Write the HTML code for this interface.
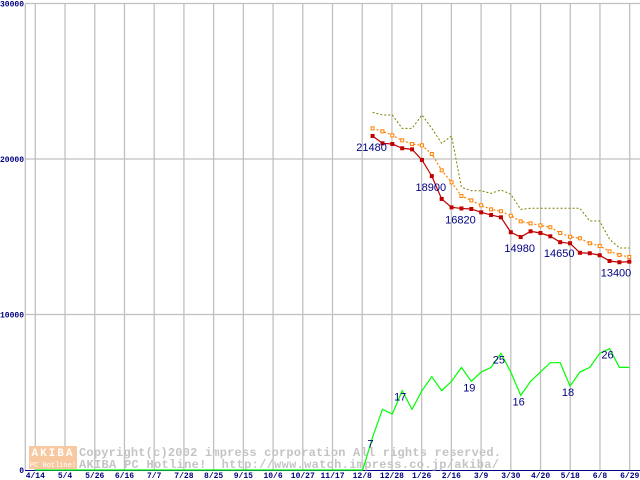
<!DOCTYPE html>
<html><head><meta charset="utf-8"><style>
html,body{margin:0;padding:0;background:#fff}
svg{display:block;font-family:"Liberation Mono","DejaVu Sans Mono",monospace}
</style></head><body>
<svg id="chart" width="640" height="480" viewBox="0 0 640 480" xmlns="http://www.w3.org/2000/svg">
<g id="grid"></g>
<g id="wm">
 <rect x="29" y="446" width="48" height="23" fill="#f8c8a0"/>
 <text x="53" y="456" font-size="11" font-weight="bold" fill="#fff" text-anchor="middle" letter-spacing="2">AKIBA</text>
 <text x="53" y="467" font-size="7" fill="#fff" text-anchor="middle">PC Hotline!</text>
 <text x="79" y="456" font-size="12" fill="#c4c4c4" font-weight="bold" textLength="422" lengthAdjust="spacing">Copyright(c)2002 impress corporation All rights reserved.</text>
 <text x="79" y="468" font-size="12" fill="#c4c4c4" font-weight="bold" textLength="420" lengthAdjust="spacing" xml:space="preserve">AKIBA PC Hotline!  http://www.watch.impress.co.jp/akiba/</text>
</g>
<g id="series"></g>
<g id="labels"></g>
</svg>
<script>
const xTickLabels=["4/14","5/4","5/26","6/16","7/7","7/28","8/25","9/15","10/6","10/27","11/17","12/8","12/28","1/26","2/16","3/9","3/30","4/20","5/18","6/8","6/29"];
const yTickValues=[0,10000,20000,30000];
const maxPrice=[23000,22830,22830,21970,21970,22830,21970,21010,21480,18180,17960,17960,17790,18010,17730,16760,16830,16830,16830,16830,16830,16830,16010,16010,14840,14280,14280];
const avgPrice=[21970,21780,21520,21200,20960,20880,20320,19270,18500,17620,17340,17020,16760,16640,16350,15990,15860,15730,15610,15240,15000,14900,14580,14410,14060,13830,13700];
const minPrice=[21480,21010,20965,20690,20620,19940,18900,17430,16890,16820,16785,16570,16400,16250,15290,14980,15350,15240,15030,14650,14580,13970,13940,13810,13440,13360,13400];
const minLabelIdx=[0,6,9,15,19,26];
const shopCount=[0,7,13,12,17,13,17,20,17,19,22,19,21,22,25,21,16,19,21,23,23,18,21,22,25,26,22,22];
const shopLabelIdx=[1,4,11,14,16,21,25];
const NS="http://www.w3.org/2000/svg";
const X0=35.3, GS=29.72, PX0=362.7, PS=9.874;
function yv(v){return 470-v*0.01555;}
function xi(i){return PX0+i*PS;}
function mk(tag,attrs,parent){const e=document.createElementNS(NS,tag);for(const k in attrs)e.setAttribute(k,attrs[k]);parent.appendChild(e);return e;}
const grid=document.getElementById('grid'),ser=document.getElementById('series'),lab=document.getElementById('labels');
yTickValues.forEach(v=>{
 if(v>0){const l=mk('line',{x1:25,x2:640,y1:yv(v),y2:yv(v),stroke:'#c0c0c0','stroke-width':1.3},grid);
 
 }
 const t=mk('text',{x:24,y:yv(v)+3,'font-size':8,fill:'#000080','text-anchor':'end','font-weight':'bold'},grid);
 t.textContent=String(v);
 
 
});
const ax=mk('line',{x1:25.3,x2:25.3,y1:4,y2:470,stroke:'#c0c0c0','stroke-width':1.3},grid);


xTickLabels.forEach((s,k)=>{
 const x=X0+k*GS;
 const l=mk('line',{x1:x,x2:x,y1:4,y2:470,stroke:'#c0c0c0','stroke-width':1.3},grid);
 
 
 const t=mk('text',{x:x,y:478,'font-size':8,fill:'#000080','text-anchor':'middle','font-weight':'bold'},grid);
 t.textContent=s;
 
 
});
const xb=mk('line',{x1:25,x2:640,y1:470.5,y2:470.5,stroke:'#000080','stroke-width':1},grid);


let gp=[[X0,yv(0)]];shopCount.forEach((v,i)=>gp.push([xi(i),yv(v*300)]));
const g=mk('polyline',{points:gp.map(p=>p.join(',')).join(' '),fill:'none',stroke:'#00ff00','stroke-width':1.2},ser);


function line(arr,name,color,dash,w){
 const p=arr.map((v,i)=>xi(i+1)+','+yv(v)).join(' ');
 const e=mk('polyline',{points:p,fill:'none',stroke:color,'stroke-width':w},ser);
 if(dash)e.setAttribute('stroke-dasharray',dash);
 
 
}
line(maxPrice,'max-price-line','#808000','2,2',1);
line(avgPrice,'avg-price-line','#ff8000','2,2',1.2);
line(minPrice,'min-price-line','#c00000',null,1.2);
avgPrice.forEach((v,i)=>{
 const r=mk('rect',{x:xi(i+1)-1.5,y:yv(v)-1.5,width:3,height:3,fill:'#fff',stroke:'#ff8000','stroke-width':1},ser);
 
 
});
minPrice.forEach((v,i)=>{
 const r=mk('rect',{x:xi(i+1)-2,y:yv(v)-2,width:4,height:4,fill:'#c00000'},ser);
 
 
});
minLabelIdx.forEach(i=>{
 const v=minPrice[i];
 const x=Math.min(xi(i+1)-1,616);
 const t=mk('text',{x:x,y:yv(v)+15,'font-size':11,fill:'#000080','text-anchor':'middle','font-family':'Liberation Sans, sans-serif'},lab);
 t.textContent=String(v);
 
 
});
shopLabelIdx.forEach(i=>{
 const v=shopCount[i];
 const t=mk('text',{x:xi(i)-2,y:yv(v*300)+10,'font-size':11,fill:'#000080','text-anchor':'middle','font-family':'Liberation Sans, sans-serif'},lab);
 t.textContent=String(v);
 
 
});
</script>
</body></html>
